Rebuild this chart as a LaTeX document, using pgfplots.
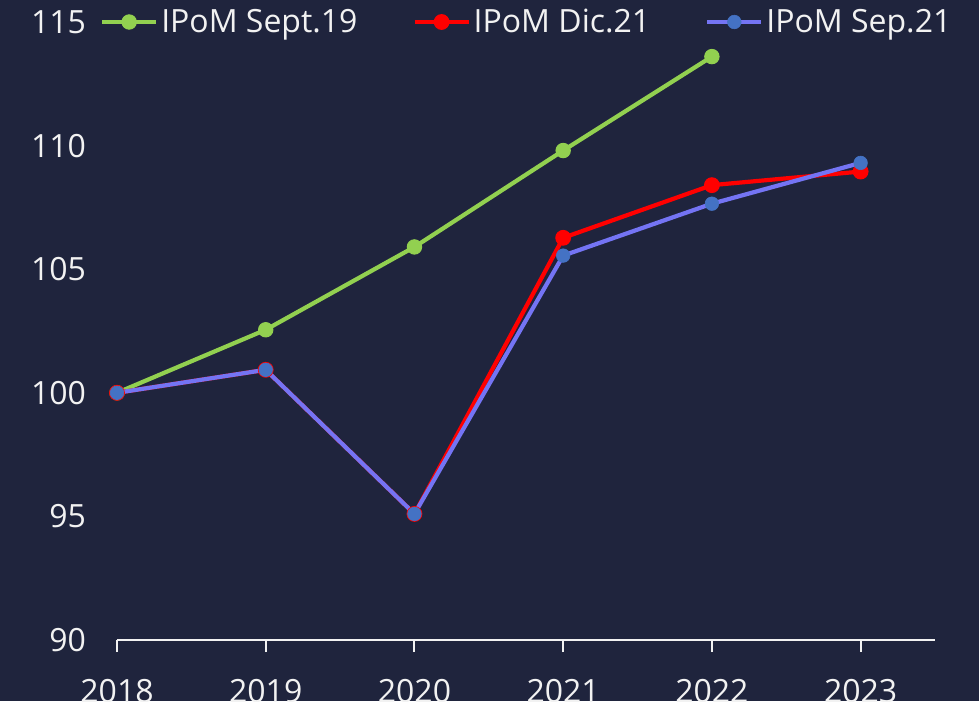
\documentclass[border=0pt]{standalone}
\usepackage{pgfplots}
\pgfplotsset{compat=1.18}
\usepackage{fontspec}
\setmainfont{Open Sans}
\definecolor{bg}{HTML}{1F243D}
\definecolor{fg}{HTML}{F2F2F2}
\definecolor{cgreen}{HTML}{92D050}
\definecolor{cred}{HTML}{FF0000}
\definecolor{cline}{HTML}{7474F4}
\definecolor{cblue}{HTML}{4472C4}
\begin{document}
\begin{tikzpicture}
\fill[bg, use as bounding box] (-58.5pt,-30.5pt) rectangle (431pt,320pt);
\begin{axis}[at={(0,0)}, anchor=south west, scale only axis,
  width=409pt, height=309pt,
  xmin=2018, xmax=2023.5, ymin=90, ymax=115,
  axis x line=bottom, axis y line=left,
  x axis line style={-, fg, line width=1pt},
  y axis line style={draw=none},
  xtick={2018,2019,2020,2021,2022,2023},
  ytick={90,95,100,105,110,115},
  tick align=outside, major tick length=6pt,
  xtick style={fg, line width=1pt},
  ytick style={draw=none},
  tick label style={font=\fontsize{16}{19}\selectfont, text=fg},
  /pgf/number format/assume math mode=true,
  /pgf/number format/1000 sep={},
  yticklabel style={xshift=-6pt},
  xticklabel style={yshift=-10pt},
  clip=false,
  legend columns=-1,
  legend style={at={(rel axis cs:0.5015,1.0)}, anchor=center, draw=none, fill=none,
    font=\fontsize{16}{19}\selectfont, text=fg,
    /tikz/every even column/.append style={column sep=26pt},
    nodes={inner xsep=1.5pt}},
  legend image code/.code={\draw[mark repeat=2,mark phase=2] plot coordinates {(0pt,0pt) (13.5pt,0pt) (27pt,0pt)};},
]
\addplot[cgreen, line width=2.1pt, mark=*, mark size=3.6pt, mark options={fill=cgreen, draw=cgreen, line width=0.5pt}]
  coordinates {(2018,100) (2019,102.55) (2020,105.9) (2021,109.8) (2022,113.6)};
\addlegendentry{IPoM Sept.19}
\addplot[cred, line width=2.1pt, mark=*, mark size=3.7pt, mark options={fill=cred, draw=cred, line width=0.5pt}]
  coordinates {(2018,100) (2019,100.93) (2020,95.1) (2021,106.27) (2022,108.4) (2023,108.95)};
\addlegendentry{IPoM Dic.21}
\addplot[cline, line width=2.1pt, mark=*, mark size=3.4pt, mark options={fill=cblue, draw=cblue, line width=0.3pt}]
  coordinates {(2018,100) (2019,100.93) (2020,95.1) (2021,105.55) (2022,107.65) (2023,109.3)};
\addlegendentry{IPoM Sep.21}
\end{axis}
\end{tikzpicture}
\end{document}
